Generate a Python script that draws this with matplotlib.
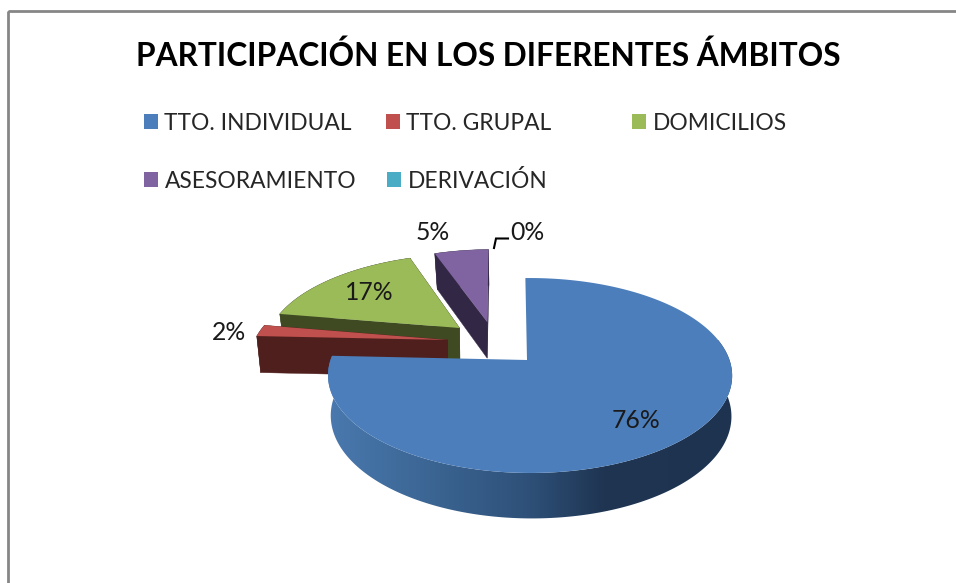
import matplotlib
matplotlib.use("Agg")
import matplotlib.pyplot as plt
from matplotlib.colors import LinearSegmentedColormap
from matplotlib.patches import Polygon, Rectangle
import numpy as np

# Data
categories = ["TTO. INDIVIDUAL", "TTO. GRUPAL", "DOMICILIOS", "ASESORAMIENTO", "DERIVACIÓN"]
values = [76.1, 2.0, 16.6, 5.3, 0.0]
title = "PARTICIPACIÓN EN LOS DIFERENTES ÁMBITOS"

face_colors = ["#4C7EBB", "#BF504D", "#9BBB59", "#8064A2", "#4BACC6"]
dark_colors = ["#1F3552", "#4F1F1D", "#3F4A23", "#322845", "#1F4A55"]

# how far each slice is pulled out, in pie radii (left/right, up/down)
explode_u = [0.0, -0.412, -0.357, -0.2125, -0.2125]
explode_v = [0.0, -0.218, -0.356, -0.427, -0.427]
# the big slice sits a little to the right of its corner
big_top_shift = 0.015
big_bottom_shift = 0.025

start_angle = -1.4
top_plane = dict(x0=527, y0=360, rx=199.5, ry=95, k=0.159)
bottom_plane = dict(x0=526, y0=397.4, rx=197, ry=99, k=0.182)

label_pos = [(636, 421), (229, 332), (369, 293), (433, 232), (527, 233)]
legend_pos = [(144, 121.5), (386, 121.5), (632, 121.5), (144, 179.5), (387, 179.5)]

plt.rcParams["font.family"] = ["Lato", "DejaVu Sans"]


def project(u, v, x0, y0, rx, ry, k):
    w = 1 - k * v
    return np.column_stack([x0 + rx * u / w, y0 + ry * v / w])


def arc(a0, a1, du, dv, plane):
    a = np.radians(np.linspace(a0, a1, 200))
    return project(np.sin(a) + du, -np.cos(a) + dv, **plane)


def apex(du, dv, plane):
    return project(np.array([du]), np.array([dv]), **plane)


fig = plt.figure(figsize=(9.56, 5.83), dpi=100)
ax = fig.add_axes([0, 0, 1, 1])
ax.set_xlim(0, 956)
ax.set_ylim(583, 0)
ax.axis("off")

# chart frame, runs off the right and bottom of the picture
ax.add_patch(Rectangle((8.5, 10.5), 1100, 700, fill=False, edgecolor="#868686", linewidth=2, zorder=1))

edges = start_angle + 3.6 * np.cumsum([0] + values)
z = 2

# exploded slices, back to front, the big one goes last
for i in [3, 2, 1]:
    a0, a1 = edges[i], edges[i + 1]
    du, dv = explode_u[i], explode_v[i]
    top_arc = arc(a0, a1, du, dv, top_plane)
    bot_arc = arc(a0, a1, du, dv, bottom_plane)
    top_c = apex(du, dv, top_plane)
    bot_c = apex(du, dv, bottom_plane)
    sides = [
        np.vstack([top_arc, bot_arc[::-1]]),
        np.vstack([top_c, top_arc[:1], bot_arc[:1], bot_c]),
        np.vstack([top_c, top_arc[-1:], bot_arc[-1:], bot_c]),
    ]
    for pts in sides:
        ax.add_patch(Polygon(pts, facecolor=dark_colors[i], edgecolor=dark_colors[i], linewidth=0.3, zorder=z))
    z += 1
    ax.add_patch(Polygon(np.vstack([top_c, top_arc]), facecolor=face_colors[i], edgecolor="none", zorder=z))
    z += 1

# big slice, outer wall has a left to right shading
a0, a1 = edges[0], edges[1]
wall_top = arc(75, a1, big_top_shift, 0, top_plane)
wall_bot = arc(75, a1, big_bottom_shift, 0, bottom_plane)
wall = Polygon(np.vstack([wall_top, wall_bot[::-1]]), facecolor="none", edgecolor="none", zorder=z)
ax.add_patch(wall)
shade = LinearSegmentedColormap.from_list(
    "wall", [(0, "#4A79AF"), (0.18, "#3F6B9B"), (0.5, "#2E5078"), (0.68, "#1F3552"), (1, "#1D3350")]
)
im = ax.imshow(np.linspace(0, 1, 256).reshape(1, -1), cmap=shade, extent=(328, 733, 530, 340),
               aspect="auto", zorder=z)
im.set_clip_path(wall)
ax.set_xlim(0, 956)
ax.set_ylim(583, 0)
z += 1
face = np.vstack([apex(0, 0, top_plane), arc(a0, a1, big_top_shift, 0, top_plane)])
ax.add_patch(Polygon(face, facecolor=face_colors[0], edgecolor="none", zorder=z))
z += 1

# percent labels
for v, (x, y) in zip(values, label_pos):
    ax.text(x, y, f"{round(v)}%", ha="center", va="center", fontsize=17.8, color="#1a1a1a", zorder=z)

# leader for the empty slice
ax.plot([494, 496, 508], [248, 238.5, 238.5], color="black", linewidth=1.5, solid_joinstyle="miter", zorder=z)

ax.text(488.5, 55.5, title, ha="center", va="center", fontsize=22.8, fontweight="bold", color="black", zorder=z)

# legend
for name, color, (x, y) in zip(categories, face_colors, legend_pos):
    ax.add_patch(Rectangle((x, y - 7.5), 14.5, 15, facecolor=color, edgecolor="none", zorder=z))
    ax.text(x + 20.5, y + 1.5, name, ha="left", va="center", fontsize=16.4, color="#262626", zorder=z)

fig.savefig("out.png", dpi=100)
